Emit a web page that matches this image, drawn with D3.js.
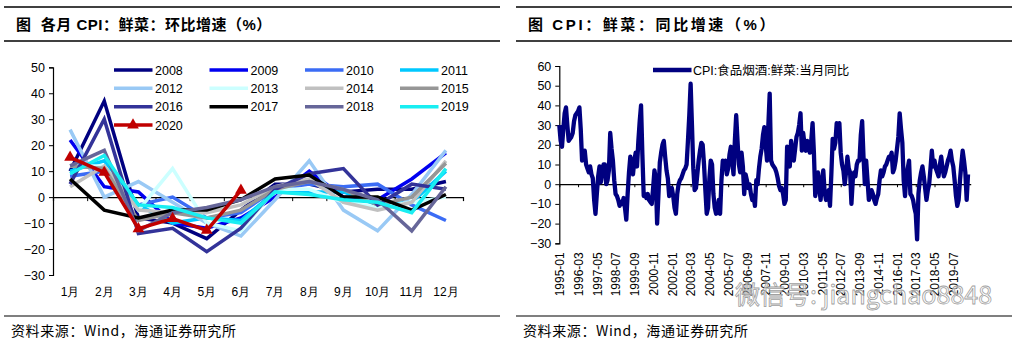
<!DOCTYPE html>
<html>
<head>
<meta charset="utf-8">
<script src="https://cdn.jsdelivr.net/npm/d3@7"></script>
<style>
	body { margin: 0; background: #fff; }
	svg { display: block; font-family: 'Liberation Sans', Arial, 'Noto Sans CJK SC', sans-serif; }
	.title { font-size: 15px; font-weight: bold; white-space: pre; }
	.tick text { font-size: 12.5px; fill: #000; }
	.source { font-size: 14px; font-family: 'Noto Sans CJK SC', sans-serif; letter-spacing: 0.6px; }
</style>
</head>
<body>
<svg id="chart" width="1022" height="345"></svg>
<script>
/* global d3 */

// ---- left panel: fresh vegetables CPI, month-on-month (%) ----
const monthLabels = ['1月', '2月', '3月', '4月', '5月', '6月', '7月', '8月', '9月', '10月', '11月', '12月'];

const mom2008 = [10, 37, -8, -10, -16, -5, 5, 5, 2, 3, 3, 6];
const mom2009 = [22, 4, 2, -10, -12, -8, 0, 10, 0, -1, 7, 17];
const mom2010 = [8, 10, -3, 0, -8, -6, 3, 5, 4, 5, -3, -9];
const mom2011 = [10, 14, -3, -10, -8, -9, 2, 2, 2, -3, -2, 10];
const mom2012 = [26, 0, 6, -2, -10, -15, -1, 14, -5, -13, 1, 18];
const mom2013 = [12, 12, -5, 11, -10, -13, 3, 3, -2, -4, -2, 0];
const mom2014 = [4, 12, -5, -6, -6, -3, 4, 7, -2, -5, -2, 14];
const mom2015 = [12, 11, -9, -6, -8, -5, 3, 6, 3, -3, 0, 13];
const mom2016 = [5, 30, -14, -12, -21, -12, 3, 9, 11, -3, 5, 3];
const mom2017 = [7, -5, -8, -5, -5, -1, 7, 8.5, 0, 0, -5, 1];
const mom2018 = [12, 18, -13, -6, -4, -1, 4, 6, 3, -1, -13, 4];
const mom2019 = [9, 16, -3, -4, -8, -10, 2, 1, -1, -2, -6, 11];
const mom2020 = [15.3, 9.5, -12.2, -8.3, -12.8, 2.6];

const momYears = ['2008', '2009', '2010', '2011', '2012', '2013', '2014', '2015', '2016', '2017', '2018', '2019', '2020'];
const momColors = ['#000080', '#0000f0', '#3b6cf5', '#00c8ff', '#99c9f5', '#ccffff', '#c0c0c0', '#969696',
	'#333399', '#000000', '#666699', '#19eef2', '#c00000'];
const momTicks = [50, 40, 30, 20, 10, 0, -10, -20, -30];

// ---- right panel: fresh vegetables CPI, year-on-year (%), monthly from 1995-01 ----
const yoyValues = [
	30, 22, 19, 28, 36, 39, 30, 22, 23, 24, 26, 32, // 1995
	35, 36, 37, 39, 28, 12, 14, 17, 10, 8, 6, 9, // 1996
	5, 3, -8, -15, -5, 4, 9, 1, 6, 10, 10, 0, // 1997
	2, 7, 26, 18, 12, 2, -5, -6, -8, -11, -9, -10, // 1998
	-7, -12, -18, -5, 6, 14, 10, 5, 12, 16, 9, 22, // 1999
	32, 40, 15, -6, -5, -7, -5, -8, -9, -10, -2, 7, // 2000
	3, -20, -5, 11, 16, 20, 22, 14, 7, 3, -6, -3, // 2001
	-2, -6, -12, -15, -5, 0, 2, 3, 5, 7, 8, 10, // 2002
	22, 35, 51, 30, 8, -3, -2, 5, 12, 17, 21, 20, // 2003
	10, -3, -15, -12, 3, 12, 10, -5, -12, -15, -14, -8, // 2004
	-15, 2, 12, 9, 12, 5, 8, 15, 19, 12, 5, 22, // 2005
	35, 22, 10, 6, 16, 9, -5, 5, 2, -2, 0, -5, // 2006
	-8, -6, -11, 2, 0, 8, 14, 18, 25, 29, 20, 12, // 2007
	30, 46, 12, 10, 9, 8, 6, 3, -1, -3, -2, -5, // 2008
	-10, -8, 19, 12, 9, 22, 15, 12, 18, 24, 26, 30, // 2009
	36, 17, 26, 20, 17, 22, 19, 16, 22, 31, 16, -6, // 2010
	0, 6, -2, -8, 2, 7, -4, -8, -6, -3, -11, 5, // 2011
	23, 18, 21, 31, 28, 31, 16, 10, 7, 0, 6, 14, // 2012
	8, 6, -10, 2, 6, 4, 10, 12, 12, 25, 32, 14, // 2013
	0, 12, 2, -8, -6, -3, -5, -8, -10, -7, -5, 2, // 2014
	7, 4, 6, 9, 10, 12, 14, 13, 16, 6, 8, 12, // 2015
	18, 24, 36, 28, 21, 2, -6, 4, 8, 12, -5, -6, // 2016
	-8, -12, -15, -28, -5, 2, 6, 9, 4, -2, -8, -3, // 2017
	0, 8, 17, 9, 12, 8, 6, 4, 10, 14, 8, 4, // 2018
	6, 9, 12, 14, 17, 12, 9, 2, -6, -11, -8, 2, // 2019
	10, 17, 12, 6, -8, 5 // 2020
];
const yoyTickLabels = ['1995-01', '1996-03', '1997-05', '1998-07', '1999-09', '2000-11', '2002-01', '2003-03',
	'2004-05', '2005-07', '2006-09', '2007-11', '2009-01', '2010-03', '2011-05', '2012-07', '2013-09',
	'2014-11', '2016-01', '2017-03', '2018-05', '2019-07'];
const yoyTicks = [60, 50, 40, 30, 20, 10, 0, -10, -20, -30];

const svg = d3.select('#chart');

// header / footer rules and titles
function drawFrame(x0, x1, title, spacing, source) {
	svg.append('line').attr('x1', x0).attr('x2', x1).attr('y1', 7).attr('y2', 7)
		.attr('stroke', '#000').attr('stroke-width', 1.5);
	svg.append('line').attr('x1', x0).attr('x2', x1).attr('y1', 41).attr('y2', 41)
		.attr('stroke', '#000').attr('stroke-width', 1.5);
	svg.append('line').attr('x1', x0).attr('x2', x1).attr('y1', 316).attr('y2', 316)
		.attr('stroke', '#000').attr('stroke-width', 1.2);
	svg.append('text').attr('class', 'title').attr('x', x0 + 12).attr('y', 30)
		.style('letter-spacing', `${spacing}px`)
		.text(title);
	svg.append('text').attr('class', 'source').attr('x', x0 + 7).attr('y', 336).text(source);
}

drawFrame(4, 500, '图  各月 CPI：鲜菜：环比增速（%）', 0.5, '资料来源：Wind，海通证券研究所');
drawFrame(516, 1012, '图 CPI：鲜菜：同比增速（%）', 2.6, '资料来源：Wind，海通证券研究所');

// ---------------- left chart ----------------
const xBand = d3.scaleBand().domain(monthLabels).range([53, 463]);
const xEdge = d3.scaleLinear().domain([0, 12]).range([53, 463]);
const yL = d3.scaleLinear().domain([-30, 50]).range([275, 67.3]);

const left = svg.append('g');

left.append('g')
	.attr('transform', 'translate(53,0)')
	.call(d3.axisLeft(yL).tickValues(momTicks).tickSize(4).tickPadding(4))
	.call(g => g.select('.domain').attr('stroke', '#000').attr('stroke-width', 1.2));

left.append('g')
	.attr('transform', `translate(0,${yL(0)})`)
	.call(d3.axisBottom(xEdge).ticks(12).tickSize(4).tickSizeOuter(4).tickFormat(''))
	.call(g => g.select('.domain').attr('stroke', '#000').attr('stroke-width', 1.2));

left.append('g')
	.attr('transform', 'translate(0,282)')
	.call(d3.axisBottom(xBand).tickSize(0).tickPadding(5))
	.call(g => g.select('.domain').remove())
	.selectAll('text').style('font-size', '12px');

const momSeries = [mom2008, mom2009, mom2010, mom2011, mom2012, mom2013, mom2014, mom2015,
	mom2016, mom2017, mom2018, mom2019, mom2020];

const lineL = d3.line()
	.x((d, i) => xBand(monthLabels[i]) + xBand.bandwidth() / 2)
	.y(d => yL(d));

momSeries.forEach((vals, k) => {
	left.append('path')
		.datum(vals)
		.attr('fill', 'none')
		.attr('stroke', momColors[k])
		.attr('stroke-width', 3.5)
		.attr('stroke-linejoin', 'miter')
		.attr('d', lineL);
});

const triangle = d3.symbol().type(d3.symbolTriangle).size(60);
left.selectAll('path.marker2020')
	.data(mom2020)
	.enter().append('path')
	.attr('class', 'marker2020')
	.attr('d', triangle)
	.attr('fill', momColors[12])
	.attr('transform', (d, i) => `translate(${xBand(monthLabels[i]) + xBand.bandwidth() / 2},${yL(d)})`);

// legend, 4 columns
const legendCols = [114, 209.5, 305, 400];
const legendRows = [70, 88.3, 106.7, 125];
const legend = left.selectAll('g.legend-item')
	.data(momYears)
	.enter().append('g')
	.attr('class', 'legend-item')
	.attr('transform', (d, i) => `translate(${legendCols[i % 4]},${legendRows[Math.floor(i / 4)]})`);

legend.append('line')
	.attr('x1', 0).attr('x2', 38.5)
	.attr('stroke', (d, i) => momColors[i])
	.attr('stroke-width', 3.5);

legend.filter(d => d === '2020').append('path')
	.attr('d', triangle)
	.attr('transform', 'translate(19,0)')
	.attr('fill', momColors[12]);

legend.append('text')
	.attr('x', 41)
	.attr('dy', '0.36em')
	.style('font-size', '12.5px')
	.text(d => d);

// ---------------- right chart ----------------
const xR = d3.scaleLinear().domain([0, 307]).range([559.3, 970.7]);
const yR = d3.scaleLinear().domain([-30, 60]).range([243.3, 66]);
const tickIdx = d3.range(0, 300, 14);

const right = svg.append('g');

right.append('g')
	.attr('transform', 'translate(559.3,0)')
	.call(d3.axisLeft(yR).tickValues(yoyTicks).tickSize(4).tickPadding(4))
	.call(g => g.select('.domain').attr('stroke', '#000').attr('stroke-width', 1.2));

right.append('g')
	.attr('transform', `translate(0,${yR(0)})`)
	.call(d3.axisBottom(xR).tickValues(tickIdx).tickSize(3).tickSizeOuter(0).tickFormat(''))
	.call(g => g.select('.domain').attr('stroke', '#000').attr('stroke-width', 1.2));

right.append('g')
	.attr('transform', 'translate(0,243.3)')
	.call(d3.axisBottom(xR).tickValues(tickIdx).tickSize(0).tickFormat((d, i) => yoyTickLabels[i]))
	.call(g => g.select('.domain').remove())
	.selectAll('text')
	.style('font-size', '12px')
	.attr('transform', 'rotate(-90)')
	.attr('x', -9)
	.attr('y', 0)
	.attr('dy', '0.35em')
	.attr('text-anchor', 'end');

right.append('path')
	.datum(yoyValues)
	.attr('fill', 'none')
	.attr('stroke', '#000080')
	.attr('stroke-width', 4.3)
	.attr('stroke-linejoin', 'round')
	.attr('d', d3.line().x((d, i) => xR(i)).y(d => yR(d)));

right.append('line')
	.attr('x1', 653).attr('x2', 691.5).attr('y1', 70).attr('y2', 70)
	.attr('stroke', '#000080').attr('stroke-width', 4.3);
right.append('text')
	.attr('x', 693).attr('y', 70).attr('dy', '0.36em')
	.style('font-size', '12.5px')
	.text('CPI:食品烟酒:鲜菜:当月同比');

// account watermark
svg.append('text')
	.attr('x', 735).attr('y', 304)
	.style('font-size', '25px')
	.style('font-family', "'Noto Sans CJK SC', sans-serif")
	.attr('fill', '#fff').attr('fill-opacity', 0.6)
	.attr('stroke', '#a0a0a0').attr('stroke-width', 0.8)
	.text('微信号: jiangchao8848');
</script>
</body>
</html>
